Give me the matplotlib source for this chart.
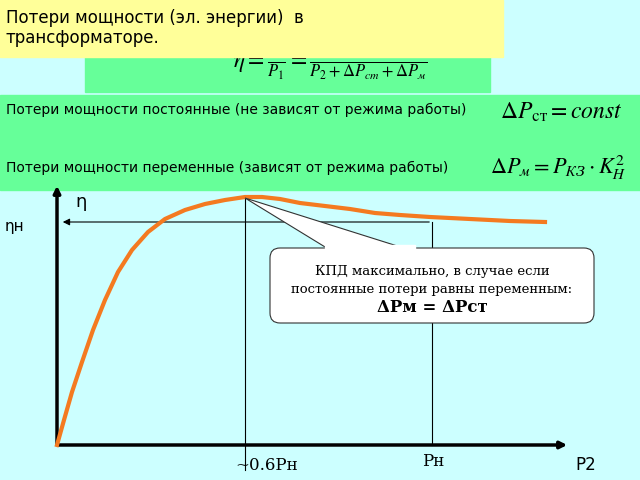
import matplotlib.pyplot as plt
from matplotlib.patches import Rectangle, FancyBboxPatch, Polygon

plt.rcParams["mathtext.fontset"] = "stix"

# efficiency curve (slide pixel coords)
curve_x = [57, 64, 72, 82, 93, 105, 118, 132, 148, 165, 185, 205, 225, 245, 262, 280, 300, 325, 350, 375, 400, 430, 470, 510, 545]
curve_y = [445, 420, 392, 362, 330, 300, 272, 250, 232, 219, 210, 204, 200, 197, 197, 199, 203, 206, 209, 213, 215, 217, 219, 221, 222]
p_opt_x = 245
p_nom_x = 432
eta_nom_y = 222

fig = plt.figure(figsize=(6.4, 4.8), dpi=100)
ax = fig.add_axes([0, 0, 1, 1])
ax.set_xlim(0, 640)
ax.set_ylim(480, 0)
ax.axis("off")
fig.patch.set_facecolor("#ccffff")

ax.add_patch(Rectangle((85, 38), 405, 54, color="#66ff99", zorder=1))
ax.add_patch(Rectangle((0, 0), 503, 57, color="#ffff99", zorder=2))
ax.add_patch(Rectangle((0, 95), 640, 95, color="#66ff99", zorder=1))

ax.text(6, 28, "Потери мощности (эл. энергии)  в\nтрансформаторе.", fontsize=12, va="center", zorder=3)
ax.text(233, 62, r"$\eta = \frac{P_2}{P_1} = \frac{P_2}{P_2+\Delta P_{ст}+\Delta P_м}$",
        fontsize=17, va="center", zorder=1)
ax.text(6, 110, "Потери мощности постоянные (не зависят от режима работы)", fontsize=10, va="center")
ax.text(6, 168, "Потери мощности переменные (зависят от режима работы)", fontsize=10, va="center")
ax.text(500, 112, r"$\Delta P_{\rm ст} = const$", fontsize=17, va="center")
ax.text(490, 168, r"$\Delta P_м = P_{КЗ}\cdot K_Н^2$", fontsize=16, va="center")

# axes
ax.annotate("", xy=(57, 183), xytext=(57, 447), arrowprops=dict(arrowstyle="-|>", lw=2.5, color="black"))
ax.annotate("", xy=(570, 445), xytext=(55, 445), arrowprops=dict(arrowstyle="-|>", lw=2.5, color="black"))
ax.text(75, 202, "η", fontsize=13, va="center")
ax.text(5, 226, "ηн", fontsize=11, va="center")
ax.text(575, 465, "P2", fontsize=12, va="center")
ax.text(422, 462, "Pн", fontsize=12, va="center", family="serif")
ax.text(235, 466, "~0.6Pн", fontsize=12, va="center", family="serif")

ax.plot([p_opt_x, p_opt_x], [197, 470], color="black", lw=0.8)
ax.plot([p_nom_x, p_nom_x], [eta_nom_y, 445], color="black", lw=0.8)
ax.annotate("", xy=(60, eta_nom_y), xytext=(p_nom_x, eta_nom_y),
            arrowprops=dict(arrowstyle="-|>", lw=0.8, color="black"))

ax.plot(curve_x, curve_y, color="#f47a20", lw=3, zorder=4)

# callout
ax.add_patch(Polygon([[245, 198], [330, 250], [410, 250]], closed=True, fc="white", ec="#333333", lw=0.8, zorder=5))
ax.add_patch(FancyBboxPatch((270, 248), 324, 75, boxstyle="round,pad=0,rounding_size=10",
                            fc="white", ec="#333333", lw=0.8, zorder=5))
ax.add_patch(Rectangle((325, 245), 90, 6, color="white", zorder=6))
ax.text(432, 280, "КПД максимально, в случае если\nпостоянные потери равны переменным:",
        fontsize=9.5, ha="center", va="center", family="serif", zorder=7, linespacing=1.5)
ax.text(432, 308, "ΔPм = ΔPст", fontsize=12, ha="center", fontweight="bold",
        va="center", family="serif", zorder=7)

fig.savefig("out.png", dpi=100, facecolor=fig.get_facecolor())
